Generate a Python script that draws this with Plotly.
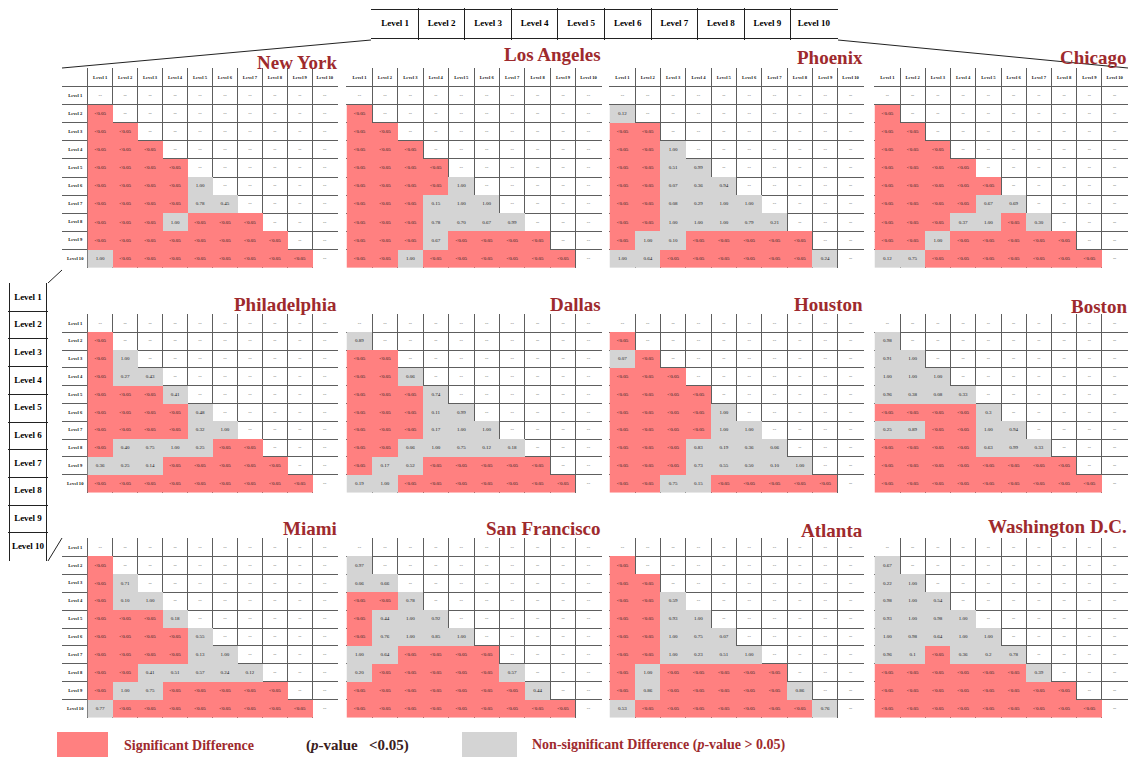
import plotly.graph_objects as go

W, H = 1129, 761
LEVELS = [f"Level {i}" for i in range(1, 11)]
LT = "<0.05"

# Pairwise p-values, lower triangle: rows Level 2..Level 10, columns Level 1..Level (row-1)
new_york = [
    [LT],
    [LT, LT],
    [LT, LT, LT],
    [LT, LT, LT, LT],
    [LT, LT, LT, LT, "1.00"],
    [LT, LT, LT, LT, "0.78", "0.45"],
    [LT, LT, LT, "1.00", LT, LT, LT],
    [LT, LT, LT, LT, LT, LT, LT, LT],
    ["1.00", LT, LT, LT, LT, LT, LT, LT, LT],
]
los_angeles = [
    [LT],
    [LT, LT],
    [LT, LT, LT],
    [LT, LT, LT, LT],
    [LT, LT, LT, LT, "1.00"],
    [LT, LT, LT, "0.15", "1.00", "1.00"],
    [LT, LT, LT, "0.78", "0.70", "0.67", "0.99"],
    [LT, LT, LT, "0.67", LT, LT, LT, LT],
    [LT, LT, "1.00", LT, LT, LT, LT, LT, LT],
]
phoenix = [
    ["0.12"],
    [LT, LT],
    [LT, LT, "1.00"],
    [LT, LT, "0.51", "0.99"],
    [LT, LT, "0.07", "0.36", "0.94"],
    [LT, LT, "0.08", "0.29", "1.00", "1.00"],
    [LT, LT, "1.00", "1.00", "1.00", "0.79", "0.21"],
    [LT, "1.00", "0.10", LT, LT, LT, LT, LT],
    ["1.00", "0.64", LT, LT, LT, LT, LT, LT, "0.24"],
]
chicago = [
    [LT],
    [LT, LT],
    [LT, LT, LT],
    [LT, LT, LT, LT],
    [LT, LT, LT, LT, LT],
    [LT, LT, LT, LT, "0.67", "0.69"],
    [LT, LT, LT, "0.37", "1.00", LT, "0.30"],
    [LT, LT, "1.00", LT, LT, LT, LT, LT],
    ["0.12", "0.75", LT, LT, LT, LT, LT, LT, LT],
]
philadelphia = [
    [LT],
    [LT, "1.00"],
    [LT, "0.27", "0.43"],
    [LT, LT, LT, "0.41"],
    [LT, LT, LT, LT, "0.48"],
    [LT, LT, LT, LT, "0.32", "1.00"],
    [LT, "0.40", "0.75", "1.00", "0.25", LT, LT],
    ["0.36", "0.25", "0.14", LT, LT, LT, LT, LT],
    [LT, LT, LT, LT, LT, LT, LT, LT, LT],
]
dallas = [
    ["0.89"],
    [LT, LT],
    [LT, LT, "0.06"],
    [LT, LT, LT, "0.74"],
    [LT, LT, LT, "0.11", "0.99"],
    [LT, LT, LT, "0.17", "1.00", "1.00"],
    [LT, LT, "0.06", "1.00", "0.75", "0.12", "0.18"],
    [LT, "0.17", "0.52", LT, LT, LT, LT, LT],
    ["0.19", "1.00", LT, LT, LT, LT, LT, LT, LT],
]
houston = [
    [LT],
    ["0.07", LT],
    [LT, LT, LT],
    [LT, LT, LT, LT],
    [LT, LT, LT, LT, "1.00"],
    [LT, LT, LT, LT, "1.00", "1.00"],
    [LT, LT, LT, "0.83", "0.19", "0.36", "0.06"],
    [LT, LT, LT, "0.73", "0.55", "0.50", "0.10", "1.00"],
    [LT, LT, "0.75", "0.15", LT, LT, LT, LT, LT],
]
boston = [
    ["0.98"],
    ["0.91", "1.00"],
    ["1.00", "1.00", "1.00"],
    ["0.96", "0.38", "0.08", "0.33"],
    [LT, LT, LT, LT, "0.3"],
    ["0.25", "0.89", LT, LT, "1.00", "0.94"],
    [LT, LT, LT, LT, "0.63", "0.99", "0.33"],
    [LT, LT, LT, LT, LT, LT, LT, LT],
    [LT, LT, LT, LT, LT, LT, LT, LT, LT],
]
miami = [
    [LT],
    [LT, "0.71"],
    [LT, "0.10", "1.00"],
    [LT, LT, LT, "0.18"],
    [LT, LT, LT, LT, "0.55"],
    [LT, LT, LT, LT, "0.13", "1.00"],
    [LT, LT, "0.41", "0.51", "0.57", "0.24", "0.12"],
    [LT, "1.00", "0.75", LT, LT, LT, LT, LT],
    ["0.77", LT, LT, LT, LT, LT, LT, LT, LT],
]
san_francisco = [
    ["0.97"],
    ["0.06", "0.66"],
    [LT, LT, "0.78"],
    [LT, "0.44", "1.00", "0.92"],
    [LT, "0.76", "1.00", "0.85", "1.00"],
    ["1.00", "0.64", LT, LT, LT, LT],
    ["0.20", LT, LT, LT, LT, LT, "0.57"],
    [LT, LT, LT, LT, LT, LT, LT, "0.44"],
    [LT, LT, LT, LT, LT, LT, LT, LT, LT],
]
atlanta = [
    [LT],
    [LT, LT],
    [LT, LT, "0.59"],
    [LT, LT, "0.93", "1.00"],
    [LT, LT, "1.00", "0.75", "0.07"],
    [LT, LT, "1.00", "0.23", "0.51", "1.00"],
    [LT, "1.00", LT, LT, LT, LT, LT],
    [LT, "0.86", LT, LT, LT, LT, LT, "0.86"],
    ["0.53", LT, LT, LT, LT, LT, LT, LT, "0.76"],
]
washington = [
    ["0.67"],
    ["0.22", "1.00"],
    ["0.98", "1.00", "0.54"],
    ["0.93", "1.00", "0.98", "1.00"],
    ["1.00", "0.98", "0.64", "1.00", "1.00"],
    ["0.96", "0.1", LT, "0.36", "0.2", "0.78"],
    [LT, LT, LT, LT, LT, LT, "0.39"],
    [LT, LT, LT, LT, LT, LT, LT, LT],
    [LT, LT, LT, LT, LT, LT, LT, LT, LT],
]

CITIES = ["New York", "Los Angeles", "Phoenix", "Chicago",
          "Philadelphia", "Dallas", "Houston", "Boston",
          "Miami", "San Francisco", "Atlanta", "Washington D.C."]
MATRICES = [new_york, los_angeles, phoenix, chicago,
            philadelphia, dallas, houston, boston,
            miami, san_francisco, atlanta, washington]

RED = "#ff8080"
GRAY = "#d4d4d4"
TITLE_RED = "#9e2a2d"
GRID = "#5e5e5e"
SERIF = "Liberation Serif, Times New Roman, serif"

# panel layout in pixels: (left, top, right, bottom), header row?, row-label column?, title centre y
COL_X = [(62, 338), (346, 602), (609, 864), (874, 1128)]
ROW_Y = [(68, 268), (314, 493), (538, 718)]
TITLE_Y = [[62, 55, 57, 57], [304, 304, 304, 306], [528, 528, 530, 526]]
HEADER = [[True, True, True, True], [False] * 4, [False] * 4]
ROWLAB = [[True, False, False, False], [True, False, False, False], [True, False, False, False]]

fig = go.Figure()
layout = {}
annotations = []


def half_ticks(lo, hi):
    return [v + 0.5 for v in range(lo - 1, hi + 1)]


for k, (city, mat) in enumerate(zip(CITIES, MATRICES)):
    r, c = divmod(k, 4)
    x0, x1 = COL_X[c]
    y0, y1 = ROW_Y[r]
    has_head = HEADER[r][c]
    has_lab = ROWLAB[r][c]
    idx = k + 1
    xn, yn = f"x{idx}", f"y{idx}"

    z, xs, ys, ts = [], [], [], []
    for i in range(10):
        zr = []
        for j in range(10):
            if i > j:
                v = mat[i - 1][j]
                zr.append(2 if v.startswith("<") else 1)
                ts.append(v)
            else:
                zr.append(None)
                ts.append("--")
            xs.append(j)
            ys.append(i)
        z.append(zr)

    fig.add_trace(go.Heatmap(
        z=z, x=list(range(10)), y=list(range(10)),
        colorscale=[[0, GRAY], [1, RED]], zmin=1, zmax=2,
        showscale=False, hoverinfo="skip", xaxis=xn, yaxis=yn))
    fig.add_trace(go.Scatter(
        x=xs, y=ys, text=ts, mode="text", hoverinfo="skip",
        textfont=dict(family=SERIF, size=5, color="#1a1a1a"),
        showlegend=False, xaxis=xn, yaxis=yn))
    if has_head:
        fig.add_trace(go.Scatter(
            x=list(range(10)), y=[-1] * 10, text=[f"<b>{s}</b>" for s in LEVELS],
            mode="text", hoverinfo="skip",
            textfont=dict(family=SERIF, size=4.6, color="#111"),
            showlegend=False, xaxis=xn, yaxis=yn))
    if has_lab:
        fig.add_trace(go.Scatter(
            x=[-1] * 10, y=list(range(10)), text=[f"<b>{s}</b>" for s in LEVELS],
            mode="text", hoverinfo="skip",
            textfont=dict(family=SERIF, size=4.6, color="#111"),
            showlegend=False, xaxis=xn, yaxis=yn))

    xlo = -1 if has_lab else 0
    ylo = -1 if has_head else 0
    eps = 0.03
    ax = dict(showgrid=True, gridcolor=GRID, gridwidth=1, zeroline=False,
              showticklabels=False, ticks="", showline=False, fixedrange=True)
    layout[f"xaxis{idx}"] = dict(
        ax, domain=[x0 / W, x1 / W], anchor=yn,
        range=[xlo - 0.5 - eps, 9.5 + eps],
        tickmode="array", tickvals=half_ticks(xlo, 9))
    layout[f"yaxis{idx}"] = dict(
        ax, domain=[1 - y1 / H, 1 - y0 / H], anchor=xn,
        range=[9.5 + eps, ylo - 0.5 - eps],
        tickmode="array", tickvals=half_ticks(ylo, 9))

    annotations.append(dict(
        xref="paper", yref="paper", x=(x1 + 1) / W, y=1 - TITLE_Y[r][c] / H,
        xanchor="right", yanchor="middle", showarrow=False,
        text=f"<b>{city}</b>", font=dict(family=SERIF, size=19, color=TITLE_RED)))

# level key along the top
TOP = (371, 8, 838, 40)
fig.add_trace(go.Scatter(
    x=list(range(10)), y=[0] * 10, text=[f"<b>{s}</b>" for s in LEVELS],
    mode="text", hoverinfo="skip", textfont=dict(family=SERIF, size=9, color="#000"),
    showlegend=False, xaxis="x13", yaxis="y13"))
key_ax = dict(showgrid=True, gridcolor="#222", gridwidth=1, zeroline=False,
              showticklabels=False, ticks="", fixedrange=True, tickmode="array")
layout["xaxis13"] = dict(key_ax, domain=[TOP[0] / W, TOP[2] / W], anchor="y13",
                         range=[-0.52, 9.52], tickvals=half_ticks(0, 9))
layout["yaxis13"] = dict(key_ax, domain=[1 - TOP[3] / H, 1 - TOP[1] / H], anchor="x13",
                         range=[0.54, -0.54], tickvals=[-0.5, 0.5])

# level key down the left side
LEFT = (8, 283, 48, 561)
fig.add_trace(go.Scatter(
    x=[0] * 10, y=list(range(10)), text=[f"<b>{s}</b>" for s in LEVELS],
    mode="text", hoverinfo="skip", textfont=dict(family=SERIF, size=9, color="#000"),
    showlegend=False, xaxis="x14", yaxis="y14"))
layout["xaxis14"] = dict(key_ax, domain=[LEFT[0] / W, LEFT[2] / W], anchor="y14",
                         range=[-0.54, 0.54], tickvals=[-0.5, 0.5])
layout["yaxis14"] = dict(key_ax, domain=[1 - LEFT[3] / H, 1 - LEFT[1] / H], anchor="x14",
                         range=[9.52, -0.52], tickvals=half_ticks(0, 9))


def px(x, y):
    return x / W, 1 - y / H


shapes = []
for (ax_, ay_), (bx_, by_) in [((371, 40), (62, 68)), ((838, 40), (1128, 68)),
                               ((48, 283), (62, 270)), ((48, 561), (62, 538))]:
    a, b = px(ax_, ay_), px(bx_, by_)
    shapes.append(dict(type="line", xref="paper", yref="paper",
                       x0=a[0], y0=a[1], x1=b[0], y1=b[1],
                       line=dict(color="#222", width=1)))

# significance key at the bottom
for (lx0, lx1), col in [((57, 108), RED), ((462, 517), GRAY)]:
    a, b = px(lx0, 757), px(lx1, 732)
    shapes.append(dict(type="rect", xref="paper", yref="paper",
                       x0=a[0], y0=a[1], x1=b[0], y1=b[1],
                       line=dict(width=0), fillcolor=col))

for tx, txt, col in [(122, "<b>Significant Difference</b>", TITLE_RED),
                     (304, "<b>(<i>p</i>-value&nbsp;&nbsp;&nbsp;&lt;0.05)</b>", "#3a2020"),
                     (530, "<b>Non-significant Difference (<i>p</i>-value &gt; 0.05)</b>", TITLE_RED)]:
    annotations.append(dict(xref="paper", yref="paper", x=tx / W, y=1 - 745 / H,
                            xanchor="left", yanchor="middle", showarrow=False,
                            text=txt, font=dict(family=SERIF, size=15 if tx == 304 else 14,
                                                color=col)))

fig.update_layout(
    width=W, height=H, margin=dict(l=0, r=0, t=0, b=0),
    paper_bgcolor="white", plot_bgcolor="white",
    showlegend=False, annotations=annotations, shapes=shapes, **layout)

fig.write_html("out.html")
